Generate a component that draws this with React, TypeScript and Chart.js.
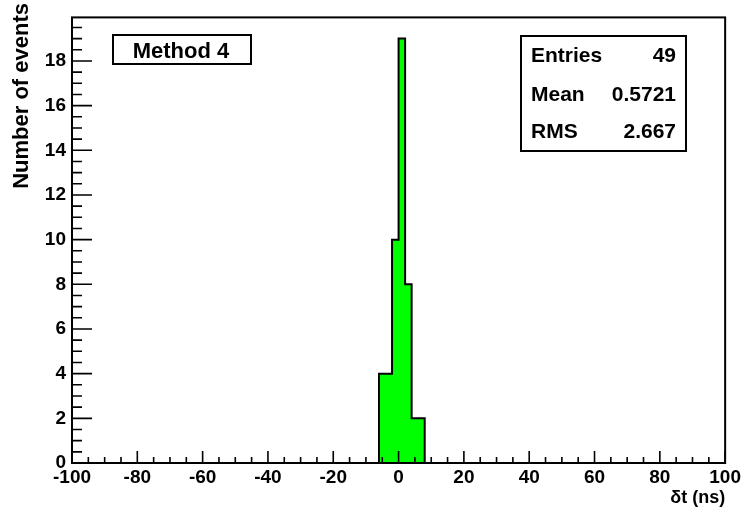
import React, { useEffect, useRef } from "react";
import { Chart, registerables } from "chart.js";

Chart.register(...registerables);

// ---- data ----
const binLowEdges = [-6, -4, -2, 0, 2, 4, 6];
const binWidth = 2;
const binCounts = [4, 4, 10, 19, 8, 2, 2];
const xMin = -100;
const xMax = 100;
const xMajorStep = 20;
const xMinorStep = 5;
const yMin = 0;
const yMax = 19.95;
const yMajorStep = 2;
const yMinorStep = 0.5;
const legendLabel = "Method 4";
const statNames = ["Entries", "Mean", "RMS"];
const statValues = ["49", "0.5721", "2.667"];
const yTitle = "Number of events";
const xTitle = "δt (ns)";

const FONT = "'Liberation Sans', Arial, Helvetica, sans-serif";

function buildSteps() {
  const pts: { x: number; y: number }[] = [];
  pts.push({ x: binLowEdges[0], y: 0 });
  binLowEdges.forEach((e, i) => pts.push({ x: e, y: binCounts[i] }));
  const lastEdge = binLowEdges[binLowEdges.length - 1] + binWidth;
  pts.push({ x: lastEdge, y: binCounts[binCounts.length - 1] });
  pts.push({ x: lastEdge, y: 0 });
  return pts;
}

const rootStyle = {
  id: "rootStyle",
  afterDatasetsDraw(chart: any) {
    const { ctx, chartArea: a, scales } = chart;
    const x = scales.x;
    const y = scales.y;
    ctx.save();
    ctx.strokeStyle = "#000";
    // ticks
    ctx.lineWidth = 1.6;
    ctx.beginPath();
    const nx = Math.round((xMax - xMin) / xMinorStep);
    for (let i = 0; i <= nx; i++) {
      const v = xMin + i * xMinorStep;
      const px = x.getPixelForValue(v);
      const r = v / xMajorStep;
      const major = Math.abs(r - Math.round(r)) < 1e-6;
      const len = major ? 12 : 6;
      ctx.moveTo(px, a.bottom);
      ctx.lineTo(px, a.bottom - len);
    }
    const ny = Math.floor((yMax - yMin) / yMinorStep + 1e-9);
    for (let i = 0; i <= ny; i++) {
      const v = yMin + i * yMinorStep;
      const py = y.getPixelForValue(v);
      const r = v / yMajorStep;
      const major = Math.abs(r - Math.round(r)) < 1e-6;
      const len = major ? 20 : 10;
      ctx.moveTo(a.left, py);
      ctx.lineTo(a.left + len, py);
    }
    ctx.stroke();
    // frame
    ctx.lineWidth = 2;
    ctx.strokeRect(a.left, a.top, a.right - a.left, a.bottom - a.top);

    // y-axis title (ROOT style: aligned to top end)
    ctx.save();
    ctx.fillStyle = "#000";
    ctx.font = `bold 22px ${FONT}`;
    ctx.translate(22, 3);
    ctx.rotate(-Math.PI / 2);
    ctx.textAlign = "right";
    ctx.textBaseline = "middle";
    ctx.fillText(yTitle, 0, 0);
    ctx.restore();

    // legend box
    ctx.fillStyle = "#fff";
    ctx.fillRect(113, 35, 138, 29);
    ctx.strokeRect(113, 35, 138, 29);
    ctx.fillStyle = "#000";
    ctx.font = `bold 22px ${FONT}`;
    ctx.textAlign = "center";
    ctx.textBaseline = "alphabetic";
    ctx.fillText(legendLabel, 181, 58);

    // stats box
    ctx.fillStyle = "#fff";
    ctx.fillRect(521, 36, 165, 115);
    ctx.strokeRect(521, 36, 165, 115);
    ctx.fillStyle = "#000";
    ctx.font = `bold 21px ${FONT}`;
    const baselines = [62, 100.5, 137.5];
    statNames.forEach((n, i) => {
      ctx.textAlign = "left";
      ctx.fillText(n, 531, baselines[i]);
      ctx.textAlign = "right";
      ctx.fillText(statValues[i], 676, baselines[i]);
    });
    ctx.restore();
  },
};

export default function App() {
  const ref = useRef<HTMLCanvasElement>(null);
  useEffect(() => {
    if (!ref.current) return;
    const chart = new Chart(ref.current, {
      type: "line",
      data: {
        datasets: [
          {
            data: buildSteps(),
            stepped: "before",
            borderColor: "#000",
            borderWidth: 2,
            backgroundColor: "#00ff00",
            fill: "origin",
            pointRadius: 0,
            tension: 0,
          },
        ],
      },
      options: {
        animation: false,
        responsive: false,
        devicePixelRatio: 1,
        layout: { padding: { left: 0, right: 18, top: 8, bottom: 0 } },
        plugins: { legend: { display: false }, tooltip: { enabled: false } },
        scales: {
          x: {
            type: "linear",
            min: xMin,
            max: xMax,
            grid: { display: false, drawTicks: false },
            border: { display: false },
            ticks: {
              stepSize: xMajorStep,
              maxRotation: 0,
              autoSkip: false,
              padding: 3,
              color: "#000",
              font: { family: FONT, size: 19, weight: "bold" },
            },
            title: {
              display: true,
              text: xTitle,
              align: "end",
              color: "#000",
              font: { family: FONT, size: 18, weight: "bold" },
              padding: { top: 0, bottom: 5 },
            },
            afterFit: (s: any) => {
              s.height = 51;
            },
          },
          y: {
            type: "linear",
            min: yMin,
            max: yMax,
            grid: { display: false, drawTicks: false },
            border: { display: false },
            ticks: {
              stepSize: yMajorStep,
              includeBounds: false,
              padding: 6,
              color: "#000",
              font: { family: FONT, size: 19, weight: "bold" },
            },
            title: { display: false, text: yTitle },
            afterFit: (s: any) => {
              s.width = 72;
            },
          },
        },
      },
      plugins: [rootStyle],
    });
    return () => chart.destroy();
  }, []);
  return (
    <canvas
      ref={ref}
      width={744}
      height={514}
      style={{ position: "absolute", left: 0, top: 0, display: "block" }}
    />
  );
}
